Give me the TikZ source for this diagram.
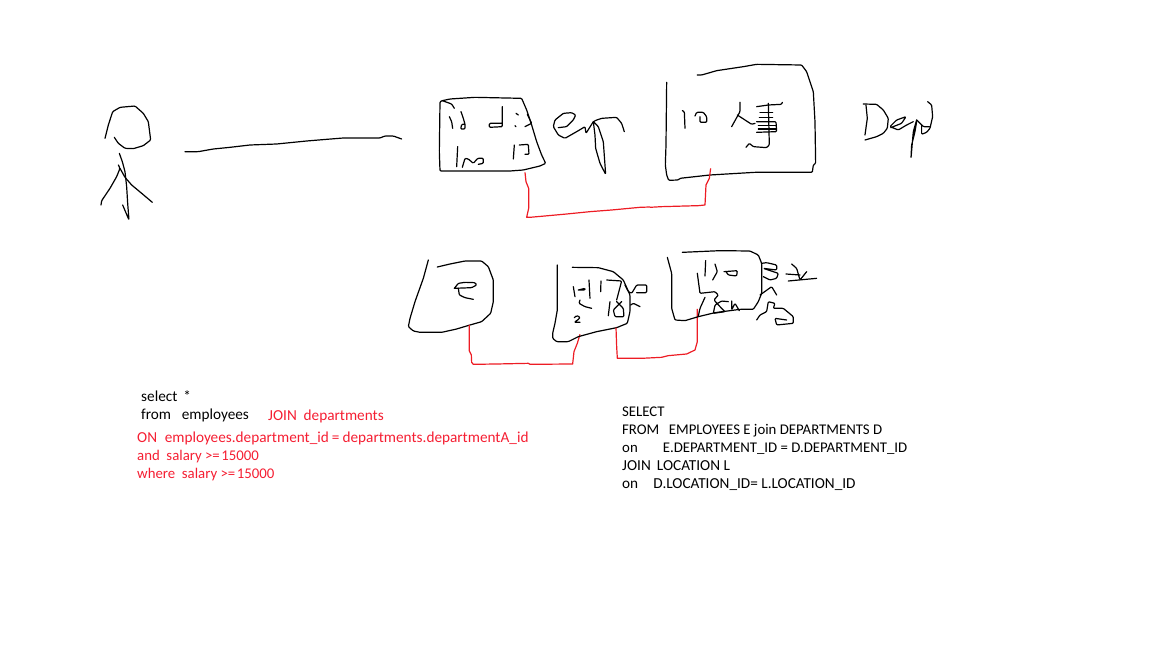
\documentclass[tikz,border=0pt]{standalone}
\usepackage{fontspec}
\setmainfont{Carlito}
\definecolor{sqlRed}{RGB}{245,30,50}
\definecolor{lineRed}{RGB}{237,28,36}
\tikzstyle{sketch} = [x = 1pt, y = -1pt]
\tikzstyle{crop} = [x = .3333pt, y = -.3333pt]
\tikzstyle{inkLine} = [color=black, line width=1.2pt, line join=round, line cap=round, rounded corners=1pt]
\tikzstyle{joinLine} = [color=lineRed, line width=1.2pt, line join=round]
\tikzstyle{sqlText} = [anchor=base west, inner sep=0pt, font=\fontsize{14.8}{18}\selectfont, text=black]
\tikzstyle{sqlWideText} = [sqlText, font=\fontsize{15.25}{18}\selectfont]
\tikzstyle{sqlRedText} = [sqlWideText, text=sqlRed]
\tikzstyle{sqlRedSmall} = [sqlText, text=sqlRed]
\newcommand{\ink}[1]{\draw [inkLine] plot coordinates {#1};}
\newcommand{\joinInk}[1]{\draw [joinLine] plot coordinates {#1};}
\newcommand{\gapEq}[1]{\hspace{.2em}#1\hspace{.2em}}
\begin{document}
\begin{tikzpicture}[sketch]
  \useasboundingbox (0,0) rectangle (1152,648);

  % person and the long line
  \begin{scope}[shift={(90,90)}, crop]
    \ink{(45,145) (55,105) (68,65) (90,52) (135,48) (160,70) (175,95) (182,150) (160,167) (130,176) (105,175) (85,160) (73,142)}
    \ink{(88,190) (97,215) (105,245) (110,290) (113,340) (117,390) (98,345)}
    \ink{(33,345) (35,332) (60,295) (80,260) (90,235) (85,225)}
    \ink{(90,235) (105,262) (125,285) (155,310) (187,337)}
    \ink{(285,185) (325,185) (370,177) (420,172) (480,165) (560,162) (650,153) (710,148) (760,144) (870,144) (885,138) (910,138) (935,147)}
  \end{scope}

  % emp table
  \begin{scope}[shift={(430,85)}, crop]
    \ink{(37,47) (60,42) (135,37) (275,40) (290,75) (305,120) (320,170) (335,210) (347,235) (330,243) (280,255) (240,258) (30,258) (28,200) (30,50) (37,47)}
    \ink{(37,47) (65,57) (73,70)}
    \ink{(58,95) (65,110) (68,130)}
    \ink{(93,80) (100,100) (105,118) (105,132) (92,132) (95,118) (105,118)}
    \ink{(217,65) (217,125) (178,127) (178,115) (217,115)}
    \ink{(258,85) (265,90)}
    \ink{(255,122) (258,125)}
    \ink{(292,88) (305,115) (285,125)}
    \ink{(83,185) (80,245)}
    \ink{(97,247) (105,220) (115,222) (130,235) (143,220) (160,220) (160,235) (145,238)}
    \ink{(253,180) (250,222)}
    \ink{(268,180) (295,178) (297,208) (285,208)}
    \ink{(385,128) (410,125) (430,105) (437,90) (425,83) (400,85) (375,105) (370,125) (385,150) (405,160) (440,140) (465,125) (468,145) (490,110) (500,105) (515,100) (560,97) (575,115) (583,140)}
    \ink{(490,110) (505,125) (520,170) (527,268) (510,235) (497,190) (495,150) (490,110)}
    \joinInk{(285,262) (288,290) (296,310) (296,370) (290,397) (300,397) (400,388) (480,380) (545,375) (630,367) (660,366)}
  \end{scope}

  % dept table
  \begin{scope}[shift={(650,55)}, crop]
    \ink{(50,82) (48,270) (46,330) (50,360) (56,376) (85,375) (90,370) (180,360) (315,352) (487,352) (490,330) (497,325) (495,200) (490,110) (470,50) (455,30) (320,28) (280,35) (200,47) (155,60) (142,60)}
    \ink{(97,167) (103,170) (105,220)}
    \ink{(135,183) (140,172) (160,172) (170,185) (170,202) (150,202) (150,185)}
    \ink{(270,142) (270,170) (245,215)}
    \ink{(262,180) (285,195) (305,208) (315,205)}
    \ink{(320,155) (355,150) (395,148) (397,142)}
    \ink{(355,145) (358,270) (350,278) (310,275) (298,265) (288,277)}
    \ink{(330,172) (368,172)}
    \ink{(328,188) (368,188)}
    \ink{(320,200) (378,200) (380,230) (320,232)}
    \ink{(325,212) (378,212)}
    \ink{(325,222) (378,222)}
    \ink{(640,147) (680,148) (700,165) (715,190) (712,220) (700,235) (680,245) (645,255)}
    \ink{(648,150) (652,190) (645,240)}
    \ink{(722,218) (755,205) (768,185) (740,195) (720,215) (745,225) (770,210) (790,200)}
    \ink{(800,195) (790,230) (783,310) (785,270) (795,230) (800,200)}
    \ink{(800,195) (820,215) (838,215)}
    \ink{(833,140) (845,150) (848,185) (840,220) (830,232) (815,238) (815,210)}
    \joinInk{(0,457) (35,455) (145,452) (165,450) (168,390) (178,370) (182,340)}
  \end{scope}

  % e box and the box beside it
  \begin{scope}[shift={(400,245)}, crop]
    \ink{(85,45) (70,100) (45,170) (30,220) (25,245) (40,258) (60,262) (125,262) (170,252) (210,240) (245,230) (272,205) (280,170) (280,105) (265,65) (245,48) (195,48) (150,57) (112,66)}
    \ink{(163,130) (175,115) (195,112) (225,113) (230,120) (215,128) (163,130)}
    \ink{(175,130) (178,150) (195,158) (220,163)}
    \joinInk{(208,240) (208,318) (214,330) (215,352) (220,358) (290,357) (385,355) (390,358) (518,357) (522,320) (532,295) (540,268)}
    \ink{(472,60) (472,195) (465,235) (458,265) (458,280) (470,290) (505,290) (535,275) (590,260) (650,248) (682,235) (690,200) (690,150) (670,105) (640,80) (595,68) (517,67)}
    \ink{(520,125) (525,155)}
    \ink{(535,135) (555,130) (555,135) (535,135)}
    \ink{(567,105) (570,160)}
    \ink{(540,165) (537,175) (555,185) (575,190)}
    \ink{(523,218) (530,212) (540,216) (537,222) (523,232) (540,232)}
    \ink{(603,108) (602,140)}
    \ink{(620,105) (665,108) (650,165)}
    \ink{(630,170) (625,212)}
    \ink{(650,170) (670,190) (672,215) (645,215) (640,195) (665,170)}
  \end{scope}

  % location box with its label
  \begin{scope}[shift={(600,240)}, crop]
    \ink{(75,135) (85,155) (95,160) (110,135) (140,135) (140,158) (110,158)}
    \ink{(92,195) (100,190) (120,200)}
    \joinInk{(48,263) (50,320) (52,355) (125,355) (185,352) (205,347) (260,342) (285,330) (292,305) (292,207)}
    \ink{(202,52) (215,100) (215,205) (225,240) (255,242) (295,230) (345,218) (420,208) (460,208) (475,185) (485,160) (485,70) (475,45) (450,33) (360,32) (247,37)}
    \ink{(317,62) (315,108)}
    \ink{(345,72) (352,95) (338,120)}
    \ink{(372,95) (412,92) (410,108) (385,105) (378,95)}
    \ink{(292,100) (300,160) (345,155) (355,165) (342,180) (360,200) (375,215) (340,220) (345,195) (365,183) (385,185)}
    \ink{(395,183) (395,210) (405,190) (418,212)}
    \ink{(315,172) (300,205) (295,228)}
    \ink{(485,70) (500,68) (530,75) (530,90) (490,85) (535,100) (530,115) (510,120) (490,110)}
    \ink{(575,72) (590,85) (600,120) (620,95)}
    \ink{(558,102) (600,105)}
    \ink{(565,123) (650,115)}
    \ink{(480,165) (515,140) (530,165)}
    \ink{(470,240) (480,225) (500,215) (505,185) (525,190) (520,205) (550,205) (580,230) (580,250) (530,255) (525,235) (560,240)}
  \end{scope}

  % left query
  \node [sqlWideText] (selectLine) at (141,401) {select\hspace{.4em}*};
  \node [sqlWideText] (fromLine) at (141,419) {from\hspace{.7em}employees};
  \node [sqlRedText] (joinLine) at (268,420) {JOIN\hspace{.45em}departments};
  \node [sqlRedText] (onLine) at (137,442) {ON\hspace{.5em}employees.department\_id\gapEq{=}departments.departmentA\_id};
  \node [sqlRedSmall] (andLine) at (137,460) {and\hspace{.45em}salary >=\hspace{.1em}15000};
  \node [sqlRedSmall] (whereLine) at (137,478) {where\hspace{.45em}salary >=\hspace{.1em}15000};

  % right query
  \node [sqlText] (upperSelect) at (622,416) {SELECT};
  \node [sqlText] (upperFrom) at (622,434) {FROM\hspace{.65em}EMPLOYEES E join DEPARTMENTS D};
  \node [sqlText] (upperOn) at (622,452) {on\hspace{1.7em}E.DEPARTMENT\_ID = D.DEPARTMENT\_ID};
  \node [sqlWideText] (upperJoin) at (622,470) {JOIN\hspace{.4em}LOCATION L};
  \node [sqlWideText] (upperLast) at (622,488) {on\hspace{1em}D.LOCATION\_ID= L.LOCATION\_ID};
\end{tikzpicture}
\end{document}
